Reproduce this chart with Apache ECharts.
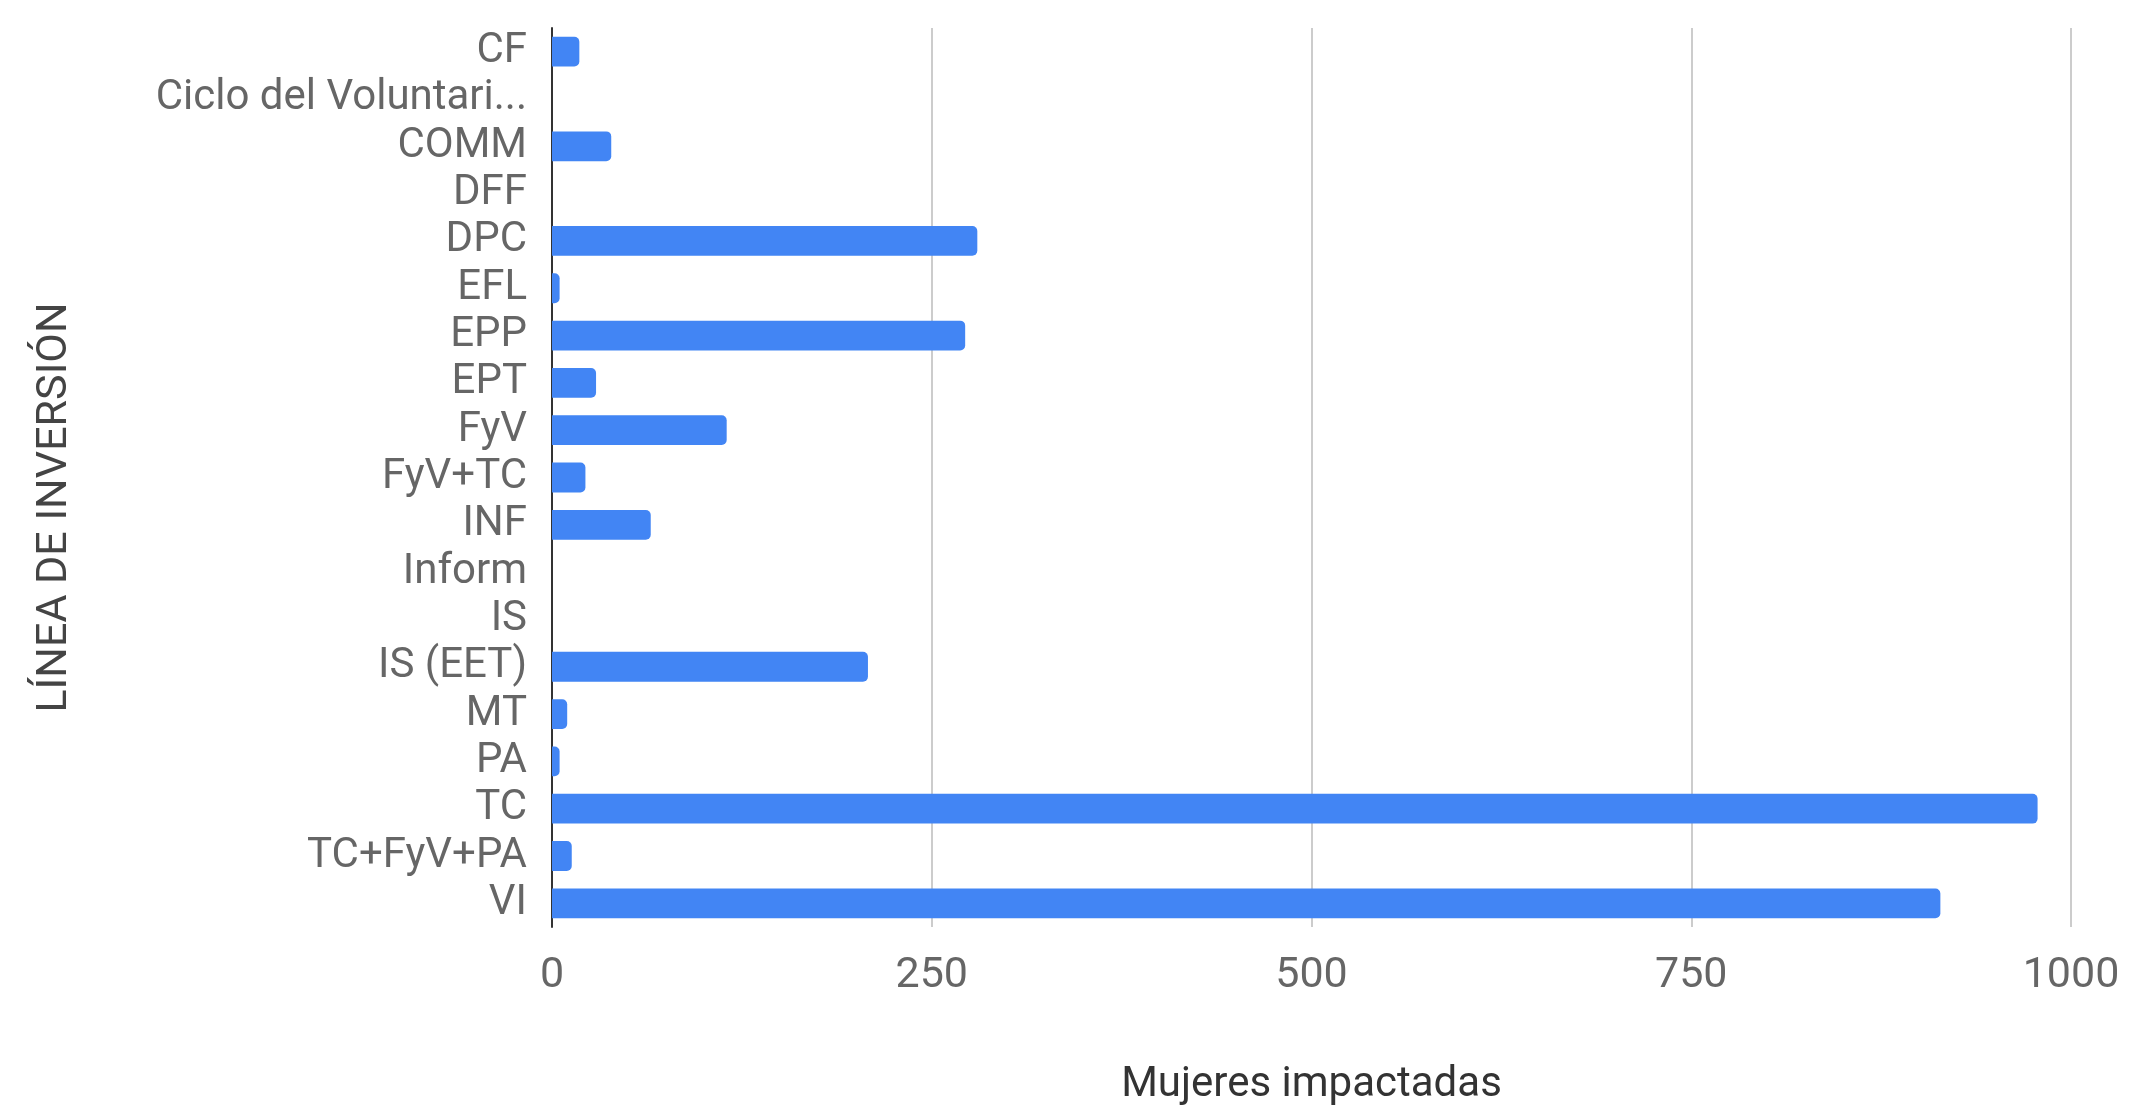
<!DOCTYPE html>
<html>
<head>
<meta charset="utf-8">
<script src="https://cdn.jsdelivr.net/npm/echarts@6/dist/echarts.min.js"></script>
<style>
html,body{margin:0;padding:0;background:#fff;}
#chart{width:2131px;height:1111px;}
</style>
</head>
<body>
<div id="chart"></div>
<script>
const categories = ["CF","Ciclo del Voluntari...","COMM","DFF","DPC","EFL","EPP","EPT","FyV","FyV+TC","INF","Inform","IS","IS (EET)","MT","PA","TC","TC+FyV+PA","VI"];
const values = [18,0,39,0,280,5,272,29,115,22,65,0,0,208,10,5,978,13,914];
const xTicks = [0,250,500,750,1000];
const xTitle = "Mujeres impactadas";
const yTitle = "LÍNEA DE INVERSIÓN";

const chart = echarts.init(document.getElementById('chart'));
chart.setOption({
  animation:false,
  backgroundColor:'#fff',
  grid:{left:552,right:60,top:28,bottom:178,containLabel:false},
  xAxis:{
    type:'value',min:xTicks[0],max:xTicks[xTicks.length-1],interval:xTicks[1]-xTicks[0],
    name:xTitle,nameLocation:'middle',nameGap:137,
    nameTextStyle:{fontFamily:'Roboto',fontSize:42,color:'#333'},
    axisLine:{show:false},axisTick:{show:false},
    axisLabel:{fontFamily:'Roboto',fontSize:43,color:'#666',margin:28,formatter:function(v){return String(v);}},
    splitLine:{show:true,lineStyle:{color:'#ccc',width:2}}
  },
  yAxis:{
    type:'category',data:categories,inverse:true,
    name:yTitle,nameLocation:'middle',nameGap:475,nameRotate:90,
    nameTextStyle:{fontFamily:'Roboto',fontSize:43,color:'#444',padding:[0,60,0,0]},
    axisLine:{show:true,lineStyle:{color:'#333',width:2}},
    axisTick:{show:false},
    axisLabel:{fontFamily:'Roboto',fontSize:42,color:'#666',margin:25,interval:0}
  },
  series:[{
    type:'bar',data:values,barCategoryGap:'37%',
    itemStyle:{color:'#4285f4',borderRadius:[0,5,5,0]}
  }]
});
</script>
</body>
</html>
